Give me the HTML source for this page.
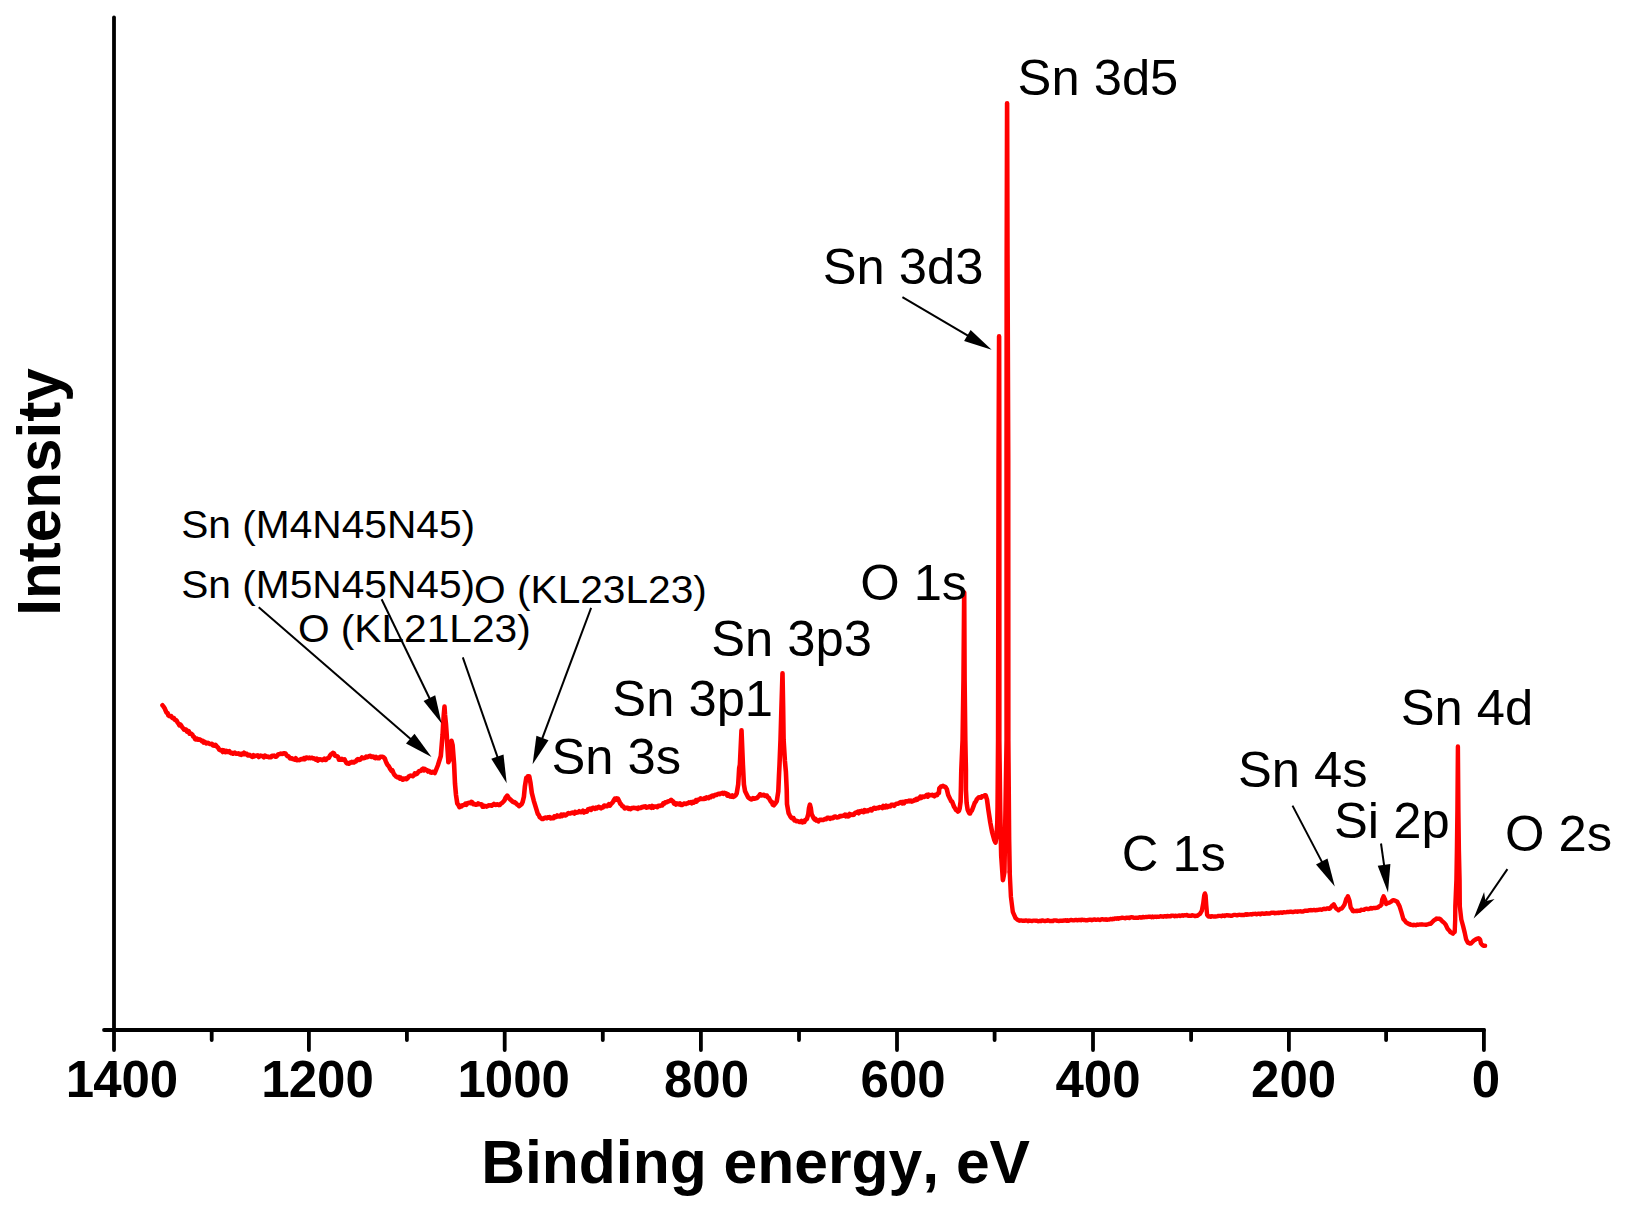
<!DOCTYPE html>
<html><head><meta charset="utf-8"><title>XPS survey spectrum</title>
<style>
html,body{margin:0;padding:0;background:#fff;}
body{width:1627px;height:1216px;overflow:hidden;}
svg{display:block;}
text{font-family:"Liberation Sans",sans-serif;fill:#000;font-kerning:none;}
.b{font-weight:bold;}
</style></head><body>
<svg width="1627" height="1216" viewBox="0 0 1627 1216">
<rect width="1627" height="1216" fill="#fff"/>

<g stroke="#000" stroke-width="3.8" stroke-linecap="round" fill="none">
<line x1="114.0" y1="17.5" x2="114.0" y2="1030.0"/>
<line x1="104" y1="1030.0" x2="1484.0" y2="1030.0"/>
<line x1="114.00" y1="1030.0" x2="114.00" y2="1050"/>
<line x1="211.70" y1="1030.0" x2="211.70" y2="1040"/>
<line x1="308.90" y1="1030.0" x2="308.90" y2="1050"/>
<line x1="406.90" y1="1030.0" x2="406.90" y2="1040"/>
<line x1="504.70" y1="1030.0" x2="504.70" y2="1050"/>
<line x1="602.80" y1="1030.0" x2="602.80" y2="1040"/>
<line x1="700.90" y1="1030.0" x2="700.90" y2="1050"/>
<line x1="799.00" y1="1030.0" x2="799.00" y2="1040"/>
<line x1="897.00" y1="1030.0" x2="897.00" y2="1050"/>
<line x1="994.60" y1="1030.0" x2="994.60" y2="1040"/>
<line x1="1093.00" y1="1030.0" x2="1093.00" y2="1050"/>
<line x1="1191.10" y1="1030.0" x2="1191.10" y2="1040"/>
<line x1="1288.90" y1="1030.0" x2="1288.90" y2="1050"/>
<line x1="1386.10" y1="1030.0" x2="1386.10" y2="1040"/>
<line x1="1483.90" y1="1030.0" x2="1483.90" y2="1050"/>
</g>
<text class="b" x="122.5" y="1097.0" dx="-0.5 -1" font-size="51" text-anchor="middle">1400</text>
<text class="b" x="318.1" y="1097.0" dx="-0.5 -1" font-size="51" text-anchor="middle">1200</text>
<text class="b" x="514.2" y="1097.0" dx="-0.5 -1" font-size="51" text-anchor="middle">1000</text>
<text class="b" x="706.5" y="1097.0" font-size="51" text-anchor="middle">800</text>
<text class="b" x="903.1" y="1097.0" font-size="51" text-anchor="middle">600</text>
<text class="b" x="1098.0" y="1097.0" font-size="51" text-anchor="middle">400</text>
<text class="b" x="1293.6" y="1097.0" font-size="51" text-anchor="middle">200</text>
<text class="b" x="1485.9" y="1097.0" font-size="51" text-anchor="middle">0</text>
<text class="b" x="755.6" y="1183.2" font-size="60.6" text-anchor="middle">Binding energy, eV</text>
<text class="b" transform="translate(60.1,492.0) rotate(-90)" font-size="60.2" text-anchor="middle">Intensity</text>
<path d="M162.5,705.3 L163.6,706.7 L164.6,708.2 L165.7,710.8 L166.6,712.7 L167.5,712.9 L168.4,715.4 L169.3,716.0 L170.2,716.2 L171.2,716.1 L172.1,717.7 L173.0,718.2 L173.9,718.1 L174.9,719.9 L175.8,720.0 L176.8,721.0 L177.7,722.8 L178.6,723.6 L179.5,725.4 L180.5,724.7 L181.4,725.9 L182.3,727.4 L183.2,728.3 L184.1,729.6 L185.1,729.4 L186.0,729.6 L186.9,731.5 L187.8,731.1 L188.7,731.0 L189.6,733.7 L190.6,733.4 L191.5,734.0 L192.4,734.8 L193.3,736.6 L194.2,737.1 L195.2,739.2 L196.1,739.4 L197.0,738.7 L197.9,739.6 L198.9,739.7 L199.8,739.4 L200.7,739.9 L201.7,741.1 L202.6,740.8 L203.5,742.5 L204.4,741.7 L205.3,742.2 L206.2,743.4 L207.2,743.0 L208.1,742.9 L209.0,743.5 L209.9,744.0 L210.8,744.0 L211.8,743.9 L212.7,745.3 L213.6,744.9 L214.5,745.7 L215.5,745.0 L216.4,745.9 L217.3,747.0 L218.2,747.8 L219.2,749.5 L220.1,750.1 L221.0,750.5 L221.9,750.2 L222.8,752.0 L223.7,750.3 L224.7,751.1 L225.6,752.1 L226.5,750.9 L227.4,751.9 L228.3,752.0 L229.3,751.2 L230.2,752.7 L231.1,753.1 L232.0,752.8 L233.0,753.6 L233.9,752.9 L234.8,752.6 L235.8,753.6 L236.7,753.5 L237.6,753.6 L238.5,753.4 L239.5,754.4 L240.4,753.8 L241.3,754.8 L242.2,753.7 L243.1,754.2 L244.1,752.8 L245.0,754.2 L245.9,754.1 L246.8,753.8 L247.7,755.4 L248.6,755.5 L249.6,754.9 L250.5,755.6 L251.4,756.4 L252.4,756.8 L253.5,755.3 L254.5,756.3 L255.6,755.7 L256.6,755.6 L257.6,755.4 L258.7,757.0 L259.7,756.4 L260.7,755.6 L261.8,755.9 L262.8,756.2 L263.9,757.3 L264.9,755.6 L265.9,756.4 L267.0,756.7 L268.0,756.6 L269.0,757.3 L270.0,757.1 L271.1,757.1 L272.1,755.7 L273.1,755.9 L274.1,755.6 L275.2,756.7 L276.2,756.7 L277.2,755.6 L278.1,754.5 L279.1,754.2 L280.0,754.0 L280.9,753.6 L281.8,753.9 L282.8,753.7 L283.7,753.2 L284.6,753.4 L285.5,753.5 L286.5,755.1 L287.4,756.0 L288.3,756.2 L289.2,757.1 L290.1,758.4 L291.1,758.3 L292.0,758.4 L292.9,759.1 L293.8,759.3 L294.8,759.7 L295.8,758.3 L296.9,760.2 L297.9,759.9 L298.9,760.1 L299.9,760.0 L301.0,759.1 L302.0,759.1 L303.0,759.3 L303.9,758.2 L304.9,759.2 L305.8,757.8 L306.7,757.6 L307.7,757.7 L308.6,758.2 L309.5,757.6 L310.5,758.2 L311.4,757.8 L312.3,757.9 L313.2,758.4 L314.1,758.4 L315.1,759.2 L316.0,759.7 L316.9,758.7 L317.8,760.6 L318.7,760.1 L319.7,759.2 L320.6,759.4 L321.5,759.7 L322.4,760.1 L323.3,759.5 L324.3,758.6 L325.2,759.9 L326.1,759.9 L327.0,758.4 L328.0,758.1 L328.9,757.8 L329.9,755.7 L330.9,754.5 L331.9,753.8 L332.9,752.9 L334.0,753.4 L335.1,755.7 L336.2,756.0 L337.1,756.2 L338.0,756.8 L339.0,759.8 L339.9,759.7 L340.8,759.8 L341.8,758.9 L342.7,759.8 L343.6,759.7 L344.5,759.4 L345.4,761.2 L346.4,763.0 L347.3,763.5 L348.2,763.4 L349.1,763.7 L350.0,762.5 L351.0,762.6 L351.9,761.9 L352.8,762.5 L353.8,762.5 L354.8,761.5 L355.9,761.4 L356.9,759.9 L357.9,759.1 L358.9,759.9 L360.0,759.7 L361.0,758.8 L362.0,757.5 L363.0,758.1 L364.1,758.1 L365.1,757.8 L366.1,756.6 L367.2,757.2 L368.2,756.8 L369.2,756.0 L370.3,755.9 L371.3,756.9 L372.3,756.5 L373.2,756.5 L374.2,757.5 L375.1,758.1 L376.1,757.0 L377.1,758.1 L378.0,758.3 L379.0,758.3 L380.0,757.0 L380.9,756.7 L381.9,756.8 L382.8,756.8 L383.8,757.5 L384.8,758.6 L385.8,761.3 L386.8,763.6 L387.7,765.2 L388.7,766.2 L389.7,768.0 L390.6,769.5 L391.6,771.0 L392.5,770.5 L393.4,773.0 L394.3,774.7 L395.2,775.5 L396.2,776.6 L397.1,777.2 L398.0,777.4 L399.0,777.0 L399.9,778.5 L400.8,777.8 L401.7,779.0 L402.6,779.7 L403.6,778.6 L404.5,779.1 L405.5,778.4 L406.6,779.2 L407.6,778.2 L408.7,776.5 L409.7,776.0 L410.8,775.6 L411.8,775.9 L412.8,776.2 L413.9,775.3 L414.9,773.3 L415.9,774.2 L416.9,773.9 L417.9,772.6 L419.0,771.3 L420.0,771.0 L421.0,770.7 L422.0,769.4 L422.9,768.7 L423.9,770.4 L424.9,769.0 L425.9,769.8 L426.9,770.1 L427.9,771.5 L428.9,770.9 L429.9,771.5 L430.9,772.6 L431.9,772.8 L432.8,771.8 L433.8,772.2 L434.8,773.0 L437.8,765.5 L440.8,756.0 L441.4,749.0 L441.8,744.0 L442.6,734.5 L443.1,724.6 L443.8,714.7 L444.5,706.6 L445.0,714.7 L446.0,724.6 L446.7,734.5 L447.6,750.0 L448.4,762.3 L449.5,760.0 L450.3,750.0 L451.5,740.8 L452.6,745.0 L454.1,764.1 L455.0,783.8 L456.0,795.0 L457.3,803.6 L458.4,804.9 L459.5,807.2 L460.5,806.1 L461.5,806.4 L462.4,805.2 L463.4,805.1 L464.4,804.8 L465.4,803.6 L466.4,804.8 L467.4,803.2 L468.3,803.0 L469.3,802.8 L470.3,803.1 L471.3,801.8 L472.3,802.3 L473.3,804.1 L474.3,803.9 L475.3,804.6 L476.2,804.6 L477.2,804.5 L478.1,803.4 L479.1,804.2 L480.0,804.3 L480.9,804.2 L481.8,804.4 L482.6,806.8 L483.5,806.7 L484.5,805.8 L485.5,806.2 L486.6,806.6 L487.6,806.0 L488.6,805.3 L489.6,805.5 L490.7,805.4 L491.7,805.7 L492.7,804.9 L493.9,803.9 L495.0,804.7 L496.0,804.9 L496.9,804.3 L497.9,804.5 L498.9,805.1 L499.9,804.9 L500.9,803.6 L501.9,803.0 L502.9,802.1 L503.8,801.2 L504.6,800.1 L505.5,797.8 L506.4,796.6 L507.2,795.6 L508.4,797.4 L509.5,798.8 L510.6,799.8 L511.7,800.8 L512.8,801.8 L513.8,802.4 L514.7,802.1 L515.6,802.9 L516.5,803.9 L517.4,804.7 L518.3,804.9 L519.1,806.1 L520.0,805.4 L520.9,804.7 L521.7,804.0 L522.6,802.1 L523.9,796.8 L524.9,786.3 L526.3,777.8 L527.1,778.0 L527.9,776.3 L529.2,776.3 L530.5,783.0 L531.8,792.9 L533.8,800.8 L535.8,807.4 L537.8,813.9 L538.8,815.0 L539.7,817.2 L540.7,817.7 L541.7,818.9 L542.7,819.0 L543.7,818.6 L544.7,817.7 L545.7,817.6 L546.7,818.2 L547.7,817.3 L548.6,817.6 L549.6,817.1 L550.6,818.4 L551.6,817.9 L552.5,818.2 L553.5,818.2 L554.4,816.3 L555.4,817.2 L556.3,816.8 L557.3,815.4 L558.2,815.9 L559.2,816.5 L560.2,816.5 L561.3,814.6 L562.3,816.0 L563.3,814.6 L564.3,814.5 L565.4,815.4 L566.4,814.9 L567.4,813.9 L568.4,813.0 L569.4,813.5 L570.3,813.5 L571.3,813.0 L572.3,812.6 L573.3,812.7 L574.3,813.5 L575.2,811.8 L576.2,812.8 L577.2,812.6 L578.2,812.3 L579.2,811.2 L580.1,811.7 L581.1,812.2 L582.1,811.8 L583.0,810.7 L584.0,812.5 L585.0,811.3 L586.0,811.6 L587.0,811.7 L588.0,809.4 L589.0,809.4 L590.0,808.6 L591.0,809.9 L592.0,808.4 L593.0,807.8 L594.0,808.1 L595.0,808.8 L596.0,807.6 L597.0,808.3 L598.0,807.1 L599.0,806.8 L600.0,807.6 L601.0,808.3 L602.0,807.3 L603.0,807.4 L603.9,805.8 L604.9,805.5 L605.9,806.3 L606.9,806.3 L607.9,805.3 L608.9,804.1 L609.9,805.6 L610.9,804.2 L611.9,803.2 L612.8,802.2 L613.8,800.2 L614.8,798.7 L615.8,799.8 L616.8,798.4 L618.0,798.8 L619.2,801.2 L620.2,803.6 L621.2,804.4 L622.2,806.1 L623.1,806.2 L624.0,807.2 L624.8,808.5 L625.7,808.1 L626.7,807.8 L627.7,807.7 L628.6,808.8 L629.6,808.3 L630.6,809.1 L631.6,808.1 L632.6,808.1 L633.6,807.8 L634.6,808.0 L635.5,808.1 L636.5,808.0 L637.5,808.9 L638.5,807.7 L639.5,808.1 L640.5,808.0 L641.5,807.1 L642.5,807.4 L643.5,806.5 L644.4,806.9 L645.4,806.3 L646.4,807.7 L647.4,807.1 L648.4,807.2 L649.4,806.3 L650.4,806.9 L651.4,807.8 L652.3,806.0 L653.3,807.5 L654.3,806.6 L655.3,806.6 L656.3,806.6 L657.3,807.1 L658.3,805.8 L659.2,805.8 L660.2,805.9 L661.2,805.2 L662.2,805.5 L663.2,803.4 L664.2,803.7 L665.2,802.2 L666.2,802.4 L667.2,802.0 L668.1,801.2 L669.1,801.2 L670.1,800.7 L671.1,799.9 L672.1,800.7 L673.0,801.4 L674.0,803.7 L675.0,802.9 L676.0,804.5 L677.0,803.6 L678.0,803.5 L679.0,804.4 L680.0,803.4 L681.0,805.0 L682.0,805.0 L682.9,804.5 L683.9,803.6 L684.9,803.5 L685.9,804.0 L686.9,803.3 L687.9,803.3 L688.9,802.4 L689.8,802.7 L690.8,802.1 L691.8,803.3 L692.8,802.0 L693.8,802.7 L694.8,801.3 L695.8,800.3 L696.7,801.5 L697.7,799.7 L698.7,799.7 L699.7,799.2 L700.7,798.3 L701.7,799.0 L702.7,799.0 L703.7,799.0 L704.6,798.1 L705.6,798.7 L706.6,797.4 L707.6,797.8 L708.6,798.2 L709.6,796.9 L710.6,797.2 L711.5,796.1 L712.5,795.6 L713.5,796.3 L714.5,795.4 L715.5,794.7 L716.5,795.0 L717.5,794.4 L718.5,793.8 L719.5,794.1 L720.5,793.6 L721.4,793.5 L722.4,792.8 L723.4,793.8 L724.4,792.9 L725.4,793.3 L726.4,793.5 L727.3,795.6 L728.3,794.4 L729.3,795.8 L730.3,796.5 L731.3,796.6 L732.3,795.5 L733.3,796.8 L734.4,796.4 L735.6,795.3 L736.7,793.3 L738.2,784.4 L739.2,768.0 L739.9,764.7 L741.5,730.4 L742.9,764.7 L743.9,784.4 L745.1,791.3 L748.1,797.3 L749.1,798.1 L750.0,798.8 L751.0,799.4 L752.0,799.2 L753.0,798.2 L754.0,798.8 L755.0,798.5 L756.0,798.2 L757.0,798.0 L758.0,796.9 L759.0,796.0 L760.0,794.3 L761.0,794.6 L762.0,795.4 L762.9,795.1 L763.9,794.8 L764.9,795.9 L765.9,795.5 L766.9,795.6 L767.9,797.3 L768.9,798.0 L769.9,799.9 L770.9,801.7 L771.9,802.0 L772.8,804.8 L773.8,805.3 L774.8,804.1 L775.8,802.8 L776.8,801.2 L778.3,791.3 L779.0,775.0 L779.5,765.0 L780.5,740.0 L781.5,705.7 L782.5,673.2 L783.1,705.7 L783.6,740.0 L784.9,761.0 L785.9,772.0 L786.7,789.4 L787.0,804.2 L788.6,813.1 L789.6,815.0 L790.6,816.8 L791.6,818.0 L792.6,818.6 L793.5,818.2 L794.5,820.5 L795.5,820.5 L796.5,821.3 L797.5,821.1 L798.5,821.4 L799.5,822.0 L800.5,821.9 L801.5,820.9 L802.5,822.4 L803.4,821.4 L804.4,821.9 L805.2,820.0 L806.1,819.5 L806.9,819.0 L808.3,814.0 L809.0,808.0 L809.9,804.7 L810.8,808.0 L811.6,814.0 L813.8,818.5 L814.7,819.5 L815.5,818.9 L816.4,820.5 L817.3,820.5 L818.3,821.4 L819.3,820.1 L820.3,819.7 L821.2,819.7 L822.2,820.0 L823.2,820.0 L824.2,819.4 L825.2,819.0 L826.2,819.2 L827.2,817.8 L828.2,817.8 L829.2,818.0 L830.1,818.9 L831.1,817.8 L832.1,818.3 L833.1,818.0 L834.1,816.7 L835.1,816.6 L836.0,816.8 L837.0,817.5 L838.0,817.3 L839.0,817.1 L839.9,816.0 L840.9,816.3 L841.9,816.0 L842.9,815.8 L843.9,815.7 L844.9,814.8 L845.9,816.4 L846.8,814.8 L847.8,816.4 L848.8,816.2 L849.8,814.0 L850.8,815.0 L851.8,814.5 L852.8,814.9 L853.8,814.8 L854.7,813.3 L855.7,812.5 L856.7,812.6 L857.7,811.8 L858.7,813.2 L859.7,811.3 L860.7,811.9 L861.7,810.8 L862.7,811.4 L863.6,812.1 L864.6,810.1 L865.6,811.4 L866.6,810.5 L867.6,811.2 L868.6,810.1 L869.6,810.3 L870.6,809.1 L871.6,810.4 L872.6,809.3 L873.5,808.1 L874.5,807.8 L875.5,808.7 L876.5,808.4 L877.5,807.9 L878.5,808.1 L879.5,807.1 L880.5,807.4 L881.4,807.1 L882.4,808.0 L883.4,806.0 L884.4,807.5 L885.4,807.4 L886.3,805.7 L887.3,807.2 L888.3,806.1 L889.3,806.3 L890.3,806.5 L891.3,804.9 L892.3,804.9 L893.2,804.7 L894.2,805.8 L895.2,804.6 L896.2,803.9 L897.2,803.8 L898.2,803.7 L899.2,803.0 L900.2,802.2 L901.2,802.1 L902.2,803.4 L903.2,802.0 L904.1,803.2 L905.1,801.4 L906.1,801.2 L907.1,801.5 L908.1,801.2 L909.0,800.6 L910.0,801.3 L910.9,800.7 L911.9,801.6 L912.8,801.1 L913.8,800.6 L914.7,799.9 L915.7,800.2 L916.6,798.9 L917.5,799.5 L918.5,798.4 L919.4,798.4 L920.4,796.6 L921.3,797.8 L922.3,796.8 L923.2,796.6 L924.1,797.0 L925.1,796.5 L926.0,795.6 L926.9,794.9 L927.8,796.6 L928.8,794.7 L929.7,795.3 L930.6,795.2 L931.6,795.0 L932.5,794.9 L933.5,795.8 L934.4,796.3 L935.4,794.8 L936.3,795.3 L937.2,794.9 L938.0,793.3 L938.9,793.0 L939.3,788.4 L940.1,787.6 L940.9,786.6 L942.0,786.4 L943.1,785.9 L944.2,786.6 L945.1,786.7 L945.9,787.6 L946.8,789.1 L948.2,795.0 L950.1,798.9 L951.1,801.1 L952.1,801.6 L954.1,806.8 L955.1,808.4 L956.1,810.1 L957.0,810.2 L958.0,811.5 L958.9,810.7 L959.7,808.2 L960.6,801.6 L961.0,785.0 L961.3,770.0 L962.6,740.0 L963.5,680.0 L964.2,592.5 L964.6,680.0 L965.3,740.0 L965.9,770.0 L965.9,789.7 L966.6,802.9 L967.6,809.5 L969.2,813.2 L970.1,813.5 L970.9,811.5 L971.8,810.8 L973.8,805.5 L974.8,802.8 L975.8,801.6 L976.8,799.3 L977.8,798.3 L978.9,797.2 L980.0,797.5 L981.1,797.6 L982.0,796.3 L982.8,796.2 L983.7,796.3 L984.7,795.3 L985.7,795.3 L987.0,799.6 L988.3,809.5 L990.3,822.6 L992.2,832.5 L994.2,839.7 L995.5,842.6 L996.6,835.8 L997.3,822.6 L997.6,806.2 L998.1,740.4 L998.6,460.4 L999.1,336.4 L999.3,460.4 L999.3,740.4 L1000.2,810.4 L1001.2,855.5 L1002.9,880.2 L1004.4,872.0 L1005.5,810.4 L1006.6,740.4 L1006.6,460.4 L1006.7,260.4 L1007.1,103.2 L1007.5,260.4 L1008.2,460.4 L1008.3,740.4 L1009.1,839.1 L1009.7,872.0" fill="none" stroke="#ff0000" stroke-width="4.6" stroke-linejoin="round" stroke-linecap="round"/>
<path d="M1009.7,872.0 L1010.9,896.7 L1012.8,911.8 L1015.5,918.0 L1016.5,918.9 L1017.6,919.9 L1018.6,920.4 L1019.5,920.7 L1020.4,920.5 L1021.3,920.5 L1022.2,920.7 L1023.1,920.6 L1024.0,920.8 L1025.0,920.7 L1026.0,920.4 L1027.0,920.6 L1028.0,921.2 L1029.0,920.5 L1030.0,920.8 L1031.0,920.9 L1032.0,921.1 L1033.0,920.6 L1034.0,920.6 L1035.0,920.6 L1036.0,920.7 L1037.0,920.8 L1038.0,921.2 L1039.0,921.1 L1040.0,920.8 L1041.0,921.1 L1042.0,920.4 L1042.9,920.4 L1043.9,920.9 L1044.9,921.1 L1045.9,920.7 L1046.9,920.8 L1047.9,920.3 L1048.8,920.6 L1049.8,921.1 L1050.8,921.0 L1051.8,921.0 L1052.8,921.1 L1053.7,920.5 L1054.7,920.4 L1055.7,920.4 L1056.7,920.7 L1057.7,920.8 L1058.7,921.0 L1059.6,920.8 L1060.6,920.7 L1061.6,920.6 L1062.6,920.8 L1063.5,920.5 L1064.5,920.6 L1065.5,920.1 L1066.4,920.7 L1067.4,920.2 L1068.4,920.8 L1069.3,920.5 L1070.3,920.2 L1071.3,920.0 L1072.2,920.1 L1073.2,920.4 L1074.1,920.4 L1075.1,919.9 L1076.1,919.9 L1077.0,920.2 L1078.0,920.2 L1079.0,920.0 L1079.9,919.9 L1080.9,920.2 L1081.9,919.7 L1082.8,919.9 L1083.8,920.0 L1084.8,919.9 L1085.7,920.3 L1086.7,920.1 L1087.7,920.2 L1088.6,919.9 L1089.6,919.7 L1090.6,919.7 L1091.5,920.2 L1092.5,920.0 L1093.5,919.6 L1094.4,919.4 L1095.4,919.8 L1096.4,919.9 L1097.4,919.7 L1098.3,919.5 L1099.3,919.8 L1100.3,920.0 L1101.2,919.4 L1102.2,919.2 L1103.2,919.5 L1104.1,919.5 L1105.1,919.7 L1106.1,919.3 L1107.0,919.8 L1108.0,919.5 L1109.0,919.6 L1109.9,919.3 L1110.9,918.9 L1111.9,919.4 L1112.8,918.8 L1113.8,919.1 L1114.8,918.5 L1115.8,918.4 L1116.7,918.7 L1117.7,918.3 L1118.7,918.7 L1119.6,918.2 L1120.6,918.1 L1121.6,917.8 L1122.5,917.8 L1123.5,917.9 L1124.5,918.1 L1125.5,918.3 L1126.4,917.6 L1127.4,917.8 L1128.4,917.6 L1129.3,918.1 L1130.3,917.4 L1131.3,917.3 L1132.3,917.3 L1133.2,917.5 L1134.2,917.9 L1135.2,917.9 L1136.1,917.7 L1137.1,917.9 L1138.1,917.8 L1139.0,917.3 L1140.0,917.1 L1141.0,917.7 L1142.0,917.5 L1142.9,916.9 L1143.9,917.3 L1144.9,917.1 L1145.8,917.0 L1146.8,917.0 L1147.8,916.8 L1148.8,916.6 L1149.7,916.8 L1150.7,916.8 L1151.7,917.3 L1152.6,916.6 L1153.6,917.2 L1154.6,916.6 L1155.6,916.7 L1156.5,917.0 L1157.5,916.7 L1158.5,916.9 L1159.5,916.6 L1160.5,916.2 L1161.5,916.5 L1162.4,916.4 L1163.4,916.8 L1164.4,916.1 L1165.4,916.2 L1166.4,916.6 L1167.4,915.9 L1168.4,916.1 L1169.4,916.4 L1170.4,916.3 L1171.3,915.7 L1172.3,915.6 L1173.3,915.6 L1174.3,916.2 L1175.3,915.7 L1176.3,916.0 L1177.3,916.1 L1178.3,915.6 L1179.3,915.5 L1180.3,916.0 L1181.2,915.7 L1182.2,915.3 L1183.2,915.7 L1184.2,915.3 L1185.2,915.4 L1186.2,915.2 L1187.1,915.0 L1188.1,915.7 L1189.0,915.8 L1190.0,915.6 L1190.9,915.9 L1191.9,915.2 L1192.8,915.4 L1193.8,915.6 L1194.7,916.0 L1195.7,916.0 L1196.6,915.6 L1197.6,915.7 L1198.8,914.6 L1200.0,913.9 L1200.9,912.3 L1201.8,910.9 L1203.2,903.4 L1204.2,895.4 L1204.9,893.4 L1205.6,895.4 L1206.3,905.4 L1207.1,914.9 L1208.5,916.6 L1209.6,916.5 L1210.7,916.8 L1211.7,916.2 L1212.8,916.4 L1213.8,916.6 L1214.7,916.5 L1215.7,916.5 L1216.7,916.4 L1217.7,916.2 L1218.6,915.9 L1219.6,915.9 L1220.6,915.9 L1221.5,916.2 L1222.5,915.5 L1223.5,915.6 L1224.5,916.0 L1225.4,915.5 L1226.4,915.3 L1227.4,915.2 L1228.3,915.6 L1229.3,915.4 L1230.3,915.8 L1231.2,915.7 L1232.2,915.7 L1233.2,915.1 L1234.2,914.9 L1235.1,914.9 L1236.1,915.1 L1237.1,915.3 L1238.0,915.0 L1239.0,914.8 L1240.0,914.9 L1241.0,915.0 L1241.9,915.0 L1242.9,915.0 L1243.9,915.0 L1244.8,914.8 L1245.8,914.3 L1246.8,914.8 L1247.8,914.3 L1248.7,914.5 L1249.7,914.4 L1250.7,914.2 L1251.6,914.5 L1252.6,914.0 L1253.6,914.0 L1254.6,913.9 L1255.5,913.8 L1256.5,914.3 L1257.5,914.0 L1258.4,913.7 L1259.4,913.7 L1260.4,914.2 L1261.4,913.7 L1262.3,913.4 L1263.3,913.8 L1264.3,913.7 L1265.2,913.9 L1266.2,913.1 L1267.2,913.3 L1268.2,913.6 L1269.1,913.5 L1270.1,913.5 L1271.1,912.8 L1272.0,912.9 L1273.0,912.7 L1274.0,912.7 L1274.9,913.3 L1275.9,912.9 L1276.9,913.1 L1277.9,912.6 L1278.8,913.0 L1279.8,912.6 L1280.8,912.4 L1281.7,912.7 L1282.7,912.8 L1283.7,912.1 L1284.7,912.4 L1285.6,912.4 L1286.6,912.2 L1287.6,911.9 L1288.6,912.0 L1289.6,911.8 L1290.6,911.8 L1291.6,911.8 L1292.6,912.0 L1293.6,912.0 L1294.6,911.6 L1295.6,911.4 L1296.6,911.6 L1297.6,911.8 L1298.6,911.4 L1299.6,911.4 L1300.6,911.3 L1301.6,911.5 L1302.5,911.6 L1303.5,911.3 L1304.4,910.8 L1305.3,910.6 L1306.3,910.7 L1307.2,910.7 L1308.1,910.7 L1309.1,910.1 L1310.0,910.3 L1310.9,910.0 L1311.8,910.4 L1312.8,910.1 L1313.7,910.0 L1314.6,910.0 L1315.6,910.4 L1316.5,909.9 L1317.4,910.0 L1318.3,909.9 L1319.2,909.6 L1320.2,909.5 L1321.1,909.7 L1322.0,909.7 L1323.0,909.1 L1323.9,908.8 L1324.8,908.9 L1325.8,909.0 L1326.9,908.5 L1327.9,908.3 L1329.0,908.9 L1330.0,908.5 L1331.1,906.9 L1332.2,905.5 L1333.0,905.2 L1333.8,904.4 L1334.7,906.0 L1335.5,907.7 L1336.5,908.9 L1337.5,909.4 L1338.5,910.3 L1339.6,909.4 L1340.7,908.7 L1341.8,908.5 L1342.7,907.3 L1343.5,906.1 L1344.4,904.8 L1346.3,898.9 L1347.1,897.9 L1347.9,896.3 L1349.6,901.1 L1350.7,907.7 L1351.8,909.1 L1352.9,911.1 L1353.8,911.2 L1354.7,911.0 L1355.6,911.1 L1356.5,910.8 L1357.4,911.1 L1358.3,910.7 L1359.2,910.6 L1360.2,910.7 L1361.1,909.8 L1362.0,909.9 L1363.0,909.9 L1363.9,909.8 L1364.8,909.2 L1365.8,908.8 L1366.8,908.6 L1367.8,909.1 L1368.8,909.0 L1369.9,908.5 L1370.9,908.0 L1371.9,908.6 L1372.9,908.1 L1373.9,907.9 L1375.0,908.1 L1376.0,907.8 L1377.1,907.8 L1378.1,907.4 L1379.2,906.3 L1380.3,905.9 L1381.4,904.8 L1382.2,899.6 L1383.6,896.3 L1385.1,899.6 L1386.2,904.0 L1387.2,903.3 L1388.2,903.0 L1389.2,902.6 L1390.2,902.2 L1391.2,901.6 L1392.2,900.7 L1393.1,900.2 L1394.0,900.3 L1395.1,900.6 L1396.2,901.2 L1397.3,901.8 L1398.4,904.1 L1399.6,906.3 L1401.4,912.2 L1403.3,918.9 L1404.3,920.0 L1405.2,921.1 L1406.2,922.6 L1407.1,922.8 L1408.0,923.7 L1408.9,924.2 L1409.8,924.0 L1410.7,924.8 L1411.8,924.9 L1412.9,925.2 L1414.0,924.7 L1415.1,925.1 L1416.1,925.2 L1417.1,924.5 L1418.0,924.8 L1419.0,924.6 L1420.0,924.4 L1420.9,924.5 L1421.9,924.3 L1422.8,924.5 L1423.8,924.6 L1424.7,924.6 L1425.7,924.8 L1426.6,924.7 L1427.6,924.4 L1428.5,924.2 L1429.5,923.6 L1430.5,923.8 L1431.4,923.0 L1432.3,922.0 L1433.2,921.1 L1434.3,920.0 L1435.3,919.6 L1436.4,918.5 L1437.5,918.8 L1438.6,918.7 L1439.7,918.8 L1440.6,919.4 L1441.5,920.5 L1442.4,921.4 L1443.5,922.2 L1444.6,923.3 L1445.7,924.7 L1447.6,928.7 L1448.5,929.7 L1449.4,930.6 L1450.3,932.0 L1451.2,932.5 L1452.0,933.1 L1452.9,933.6 L1453.8,932.4 L1454.7,932.0 L1455.2,919.5 L1455.3,906.3 L1456.4,880.0 L1456.9,850.0 L1457.4,810.0 L1457.9,746.4 L1458.4,810.0 L1458.9,850.0 L1459.6,880.0 L1459.8,906.3 L1461.3,919.5 L1463.1,926.1 L1464.7,932.6 L1466.1,939.2 L1467.0,941.1 L1468.0,942.8 L1468.9,942.7 L1469.8,943.5 L1470.7,943.5 L1471.6,943.0 L1472.4,942.0 L1473.3,941.2 L1474.2,940.2 L1475.0,939.9 L1475.9,939.2 L1476.8,938.8 L1477.7,938.9 L1478.6,938.2 L1479.4,938.8 L1480.2,939.9 L1480.9,943.2 L1481.7,944.4 L1482.5,945.1 L1483.4,945.7 L1484.2,945.8 L1485.1,945.8" fill="none" stroke="#ff0000" stroke-width="4.4" stroke-linejoin="round" stroke-linecap="round"/>
<line x1="258.7" y1="607.2" x2="414.4" y2="742.2" stroke="#000" stroke-width="2"/><polygon points="431.5,757.0 406.0,743.5 414.5,733.7" fill="#000"/>
<line x1="381.6" y1="599.3" x2="431.8" y2="703.0" stroke="#000" stroke-width="2"/><polygon points="441.6,723.4 423.6,700.9 435.2,695.3" fill="#000"/>
<line x1="462.8" y1="657.4" x2="499.2" y2="761.9" stroke="#000" stroke-width="2"/><polygon points="506.7,783.3 491.3,758.8 503.5,754.6" fill="#000"/>
<line x1="591.1" y1="607.9" x2="540.5" y2="743.1" stroke="#000" stroke-width="2"/><polygon points="532.6,764.3 536.4,735.8 548.5,740.3" fill="#000"/>
<line x1="902.4" y1="297.2" x2="972.1" y2="338.2" stroke="#000" stroke-width="2"/><polygon points="991.6,349.7 964.1,341.0 970.6,329.9" fill="#000"/>
<line x1="1292.5" y1="805.6" x2="1324.3" y2="866.4" stroke="#000" stroke-width="2"/><polygon points="1334.8,886.5 1316.0,864.6 1327.5,858.6" fill="#000"/>
<line x1="1381.0" y1="843.5" x2="1384.8" y2="870.2" stroke="#000" stroke-width="2"/><polygon points="1388.0,892.6 1377.7,865.7 1390.4,863.9" fill="#000"/>
<line x1="1507.4" y1="869.1" x2="1485.4" y2="901.3" stroke="#000" stroke-width="2"/><polygon points="1473.6,918.5 1484.1,891.9 1485.4,901.3 1494.6,899.1" fill="#000"/>
<text transform="translate(1097.95,94.7) scale(1.0000,1)" font-size="50.7" text-anchor="middle">Sn 3d5</text>
<text transform="translate(903.05,284.2) scale(1.0000,1)" font-size="50.7" text-anchor="middle">Sn 3d3</text>
<text transform="translate(913.65,600.0) scale(1.0000,1)" font-size="50.7" text-anchor="middle">O 1s</text>
<text transform="translate(791.60,655.6) scale(1.0000,1)" font-size="50.7" text-anchor="middle">Sn 3p3</text>
<text transform="translate(692.70,715.8) scale(1.0000,1)" font-size="50.7" text-anchor="middle">Sn 3p1</text>
<text transform="translate(616.35,774.4) scale(1.0000,1)" font-size="50.7" text-anchor="middle">Sn 3s</text>
<text transform="translate(1466.90,724.8) scale(1.0000,1)" font-size="50.7" text-anchor="middle">Sn 4d</text>
<text transform="translate(1302.80,786.9) scale(1.0000,1)" font-size="50.7" text-anchor="middle">Sn 4s</text>
<text transform="translate(1391.80,837.5) scale(1.0000,1)" font-size="50.7" text-anchor="middle">Si 2p</text>
<text transform="translate(1173.80,871.4) scale(1.0000,1)" font-size="50.7" text-anchor="middle">C 1s</text>
<text transform="translate(1558.50,850.7) scale(1.0000,1)" font-size="50.7" text-anchor="middle">O 2s</text>
<text transform="translate(328.15,537.7) scale(1.0300,1)" font-size="39.5" text-anchor="middle">Sn (M4N45N45)</text>
<text transform="translate(328.15,598.3) scale(1.0300,1)" font-size="39.5" text-anchor="middle">Sn (M5N45N45)</text>
<text transform="translate(590.45,602.8) scale(1.0300,1)" font-size="39.5" text-anchor="middle">O (KL23L23)</text>
<text transform="translate(414.30,642) scale(1.0300,1)" font-size="39.5" text-anchor="middle">O (KL21L23)</text>
</svg></body></html>
